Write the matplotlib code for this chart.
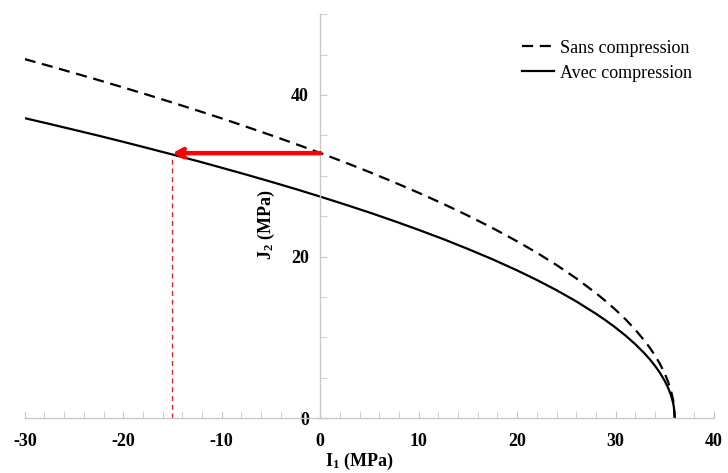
import matplotlib.pyplot as plt
from matplotlib.ticker import MultipleLocator

plt.rcParams['font.family'] = ['Liberation Serif', 'DejaVu Serif']
plt.rcParams['mathtext.fontset'] = 'custom'
plt.rcParams['mathtext.rm'] = 'Liberation Serif'
plt.rcParams['mathtext.bf'] = 'Liberation Serif:bold'
plt.rcParams['axes.unicode_minus'] = False

# values (I1, J2 in MPa)
i1 = [-30, -27.5, -25, -22.5, -20, -17.5, -15, -12.5, -10, -7.5, -5, -2.5, 0, 2.5, 5, 7.5,
      10, 12.5, 15, 17.5, 20, 22, 24, 26, 28, 29, 30, 31, 32, 33, 33.5, 34, 34.5, 35,
      35.3, 35.6, 35.8, 35.9, 36]
j2_sans = [44.44, 43.59, 42.72, 41.84, 40.93, 40.01, 39.06, 38.09, 37.10, 36.07, 35.02,
           33.94, 32.82, 31.66, 30.46, 29.20, 27.89, 26.52, 25.07, 23.53, 21.88, 20.47,
           18.95, 17.30, 15.47, 14.47, 13.40, 12.23, 10.94, 9.47, 8.65, 7.73, 6.70, 5.47,
           4.58, 3.46, 2.45, 1.73, 0]
j2_avec = [37.13, 36.42, 35.69, 34.96, 34.20, 33.42, 32.63, 31.83, 30.99, 30.14, 29.26,
           28.36, 27.42, 26.45, 25.45, 24.40, 23.30, 22.16, 20.94, 19.66, 18.28, 17.10,
           15.83, 14.45, 12.92, 12.09, 11.19, 10.22, 9.14, 7.92, 7.23, 6.46, 5.60, 4.57,
           3.82, 2.89, 2.04, 1.44, 0]

arrow_start = (0, 32.8)
arrow_end = (-15, 32.8)
i1_marker = -15
j2_marker = 32.6

fig = plt.figure(figsize=(7.28, 4.73), dpi=100)
ax = fig.add_axes([0.034, 0.116, 0.947, 0.854])

ax.plot(i1, j2_sans, color='black', lw=1.6, linestyle=(0, (5, 3)), label='Sans compression')
ax.plot(i1, j2_avec, color='black', lw=1.6, label='Avec compression')

# vertical marker and red arrow
ax.plot([i1_marker, i1_marker], [0, j2_marker], color='#e02020', lw=0.9, linestyle=(0, (4, 3)))
ax.annotate('', xy=arrow_end, xytext=arrow_start,
            arrowprops=dict(arrowstyle='->,head_length=0.55,head_width=0.3',
                            color='#ff0000', lw=3.2, shrinkA=0, shrinkB=0))

ax.set_xlim(-30, 40)
ax.set_ylim(0, 50)

# axes crossing at the origin, light grey
for side in ['top', 'right']:
    ax.spines[side].set_visible(False)
ax.spines['left'].set_position(('data', 0))
ax.spines['bottom'].set_position(('data', 0))
for side in ['left', 'bottom']:
    ax.spines[side].set_color('#c8c8c8')
    ax.spines[side].set_linewidth(1.0)

ax.xaxis.set_major_locator(MultipleLocator(10))
ax.xaxis.set_minor_locator(MultipleLocator(2))
ax.yaxis.set_major_locator(MultipleLocator(20))
ax.yaxis.set_minor_locator(MultipleLocator(5))
ax.tick_params(axis='x', which='both', direction='in', length=5, color='#c8c8c8', pad=11,
               labelsize=13)
ax.tick_params(axis='y', which='both', direction='in', length=5, color='#c8c8c8', pad=8,
               labelsize=13)
for lbl in ax.get_xticklabels() + ax.get_yticklabels():
    lbl.set_fontweight('bold')

ax.set_xlabel(r'$\mathregular{I_1}$ (MPa)', fontsize=13, fontweight='bold')
ax.xaxis.set_label_coords(0.486, -0.082)
ax.set_ylabel(r'$\mathregular{J_2}$ (MPa)', fontsize=13, fontweight='bold')
ax.yaxis.set_label_coords(0.366, 0.478)

ax.legend(loc='upper right', bbox_to_anchor=(0.978, 0.955), frameon=False, fontsize=13,
          handlelength=1.8, handletextpad=0.3, labelspacing=0.45, borderaxespad=0)

fig.savefig('out.png', dpi=100)
